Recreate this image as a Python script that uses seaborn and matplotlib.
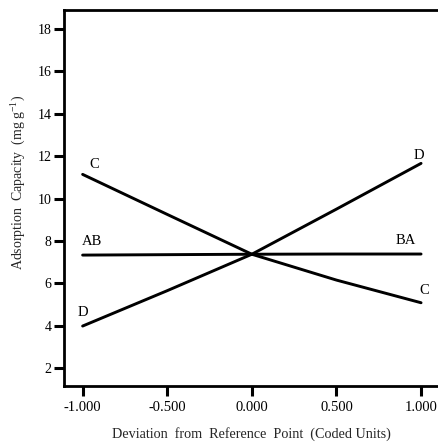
import matplotlib
matplotlib.use("Agg")
import matplotlib.pyplot as plt
import seaborn as sns
import pandas as pd

# Data
deviation = [-1.0, -0.5, 0.0, 0.5, 1.0]
factor_C = [11.14, 9.25, 7.37, 6.15, 5.08]
factor_D = [3.98, 5.65, 7.37, 9.50, 11.66]
factor_AB = [7.33, 7.35, 7.37, 7.38, 7.38]

x_ticks = [-1.0, -0.5, 0.0, 0.5, 1.0]
x_ticklabels = ["-1.000", "-0.500", "0.000", "0.500", "1.000"]
y_ticks = [2, 4, 6, 8, 10, 12, 14, 16, 18]

df = pd.DataFrame({
    "x": deviation * 3,
    "y": factor_C + factor_D + factor_AB,
    "factor": ["C"] * 5 + ["D"] * 5 + ["AB"] * 5,
})

sns.set_style("ticks")
plt.rcParams["font.family"] = ["Liberation Serif", "DejaVu Serif"]
plt.rcParams["mathtext.fontset"] = "custom"
plt.rcParams["mathtext.rm"] = "Liberation Serif"
plt.rcParams["mathtext.it"] = "Liberation Serif:italic"

fig = plt.figure(figsize=(4.39, 4.45), dpi=100)
ax = fig.add_axes([64 / 439, 1 - 386 / 445, 1 - 64 / 439, (386 - 10) / 445])

sns.lineplot(data=df, x="x", y="y", hue="factor",
             palette={"C": "black", "D": "black", "AB": "black"},
             linewidth=2.1, legend=False, ax=ax)

ax.set_xlim(-1.11, 1.106)
ax.set_ylim(1.15, 18.9)
ax.set_xticks(x_ticks)
ax.set_xticklabels(x_ticklabels)
ax.set_yticks(y_ticks)

for s in ["left", "bottom", "top"]:
    ax.spines[s].set_linewidth(2.0)
    ax.spines[s].set_color("black")
ax.spines["right"].set_visible(False)
ax.tick_params(axis="both", direction="out", length=7, width=2.2,
               colors="black")
ax.tick_params(axis="x", labelsize=10.5, pad=4)
ax.tick_params(axis="y", labelsize=10, pad=2)

ax.set_xlabel("Deviation  from  Reference  Point  (Coded Units)", fontsize=10.2, labelpad=9)
ax.set_ylabel(r"Adsorption  Capacity  (mg g$^{-1}$)", fontsize=10)
ax.yaxis.set_label_coords(-0.095, 0.541)

tk = dict(fontsize=10.5, color="black", ha="center", va="center")
ax.text(-0.93, 11.6, "C", **tk)
ax.text(-0.945, 7.98, "AB", **tk)
ax.text(-1.0, 4.6, "D", **tk)
ax.text(0.986, 12.05, "D", **tk)
ax.text(0.91, 8.02, "BA", **tk)
ax.text(1.016, 5.65, "C", **tk)

fig.savefig("out.png", dpi=100)
